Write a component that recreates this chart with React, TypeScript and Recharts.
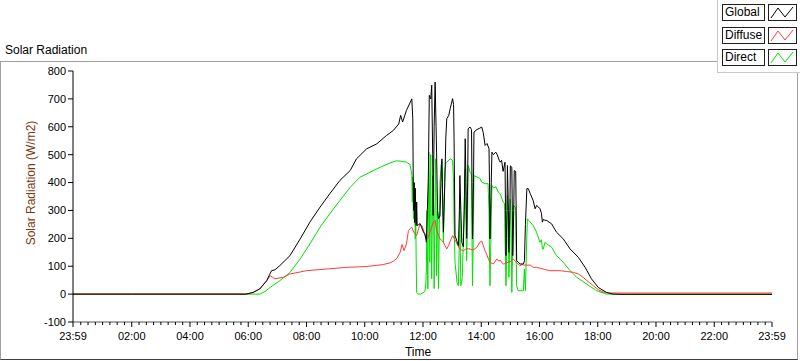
import React from "react";
import { Line, LineChart, XAxis, YAxis } from "recharts";

// minutes since midnight (-1 = 23:59 the day before), W/m2
const globalPts: [number, number][] = [
  [-1, 0], [120, 0], [240, 0], [355, 0], [370, 6], [384, 19], [398, 48], [404, 70], [408, 84], [415, 87],
  [425, 102], [446, 138], [467, 198], [487, 258], [508, 312], [528, 360], [549, 408], [570, 443], [583, 485],
  [604, 521], [625, 539], [645, 569], [659, 587], [670, 610], [674, 641], [678, 617], [686, 659], [693, 685],
  [697, 700], [699, 629], [700, 390], [701, 300], [702, 400], [703, 256], [704, 380], [706, 246], [707, 330],
  [708, 246], [711, 249], [714, 253], [717, 240], [721, 222], [724, 216], [727, 186], [729, 300], [731, 414],
  [733, 713], [736, 700], [738, 749], [740, 500], [741, 282], [743, 600], [745, 760], [747, 600], [748, 509],
  [750, 300], [752, 270], [755, 280], [757, 400], [759, 485], [761, 300], [762, 222], [765, 400], [767, 560],
  [769, 629], [773, 640], [776, 665], [781, 701], [783, 680], [784, 560], [786, 210], [790, 190], [793, 174],
  [795, 300], [796, 425], [798, 300], [800, 186], [803, 170], [805, 300], [807, 557], [809, 350], [810, 200],
  [812, 400], [813, 593], [817, 599], [820, 590], [821, 400], [822, 198], [824, 400], [825, 581], [831, 590],
  [837, 595], [841, 599], [844, 580], [848, 533], [852, 540], [856, 521], [857, 400], [858, 198], [860, 350],
  [862, 509], [865, 500], [870, 509], [873, 500], [877, 480], [879, 473], [882, 480], [885, 440], [889, 473],
  [890, 300], [891, 138], [893, 300], [894, 461], [896, 300], [897, 150], [899, 300], [900, 460], [903, 455],
  [904, 300], [905, 138], [907, 300], [908, 443], [911, 440], [912, 300], [913, 120], [920, 108], [927, 108],
  [929, 120], [931, 250], [934, 378], [937, 378], [941, 360], [944, 348], [947, 335], [951, 306], [954, 318],
  [958, 312], [961, 306], [964, 290], [966, 258], [968, 268], [971, 265], [975, 264], [985, 252], [995, 222],
  [1009, 198], [1023, 162], [1040, 132], [1054, 96], [1067, 55], [1081, 24], [1098, 6], [1112, 0], [1130, -1],
  [1439, -1],
];

const diffusePts: [number, number][] = [
  [-1, 0], [357, 0], [370, 6], [384, 19], [398, 48], [405, 66], [410, 60], [415, 55], [432, 60], [446, 72],
  [480, 84], [522, 90], [563, 96], [604, 99], [638, 106], [652, 112], [659, 118], [666, 128], [673, 150],
  [677, 178], [681, 156], [686, 180], [690, 228], [694, 236], [697, 240], [701, 222], [704, 215], [707, 210],
  [711, 235], [714, 252], [718, 245], [721, 230], [724, 210], [728, 198], [731, 205], [735, 225], [738, 240],
  [741, 258], [745, 264], [748, 230], [752, 210], [755, 198], [759, 192], [762, 186], [765, 175], [769, 162],
  [773, 175], [776, 190], [781, 210], [784, 200], [786, 195], [790, 180], [796, 162], [800, 158], [803, 155],
  [807, 160], [810, 165], [813, 162], [817, 162], [821, 158], [825, 160], [831, 168], [837, 186], [841, 190],
  [844, 175], [848, 155], [851, 144], [855, 125], [858, 114], [862, 110], [865, 108], [869, 118], [872, 126],
  [876, 118], [879, 122], [883, 112], [886, 108], [890, 110], [893, 112], [899, 115], [902, 120], [906, 126],
  [910, 118], [913, 112], [917, 106], [920, 102], [924, 106], [927, 104], [934, 104], [941, 104], [947, 96],
  [954, 96], [961, 93], [971, 88], [981, 84], [1002, 84], [1016, 81], [1030, 78], [1040, 72], [1050, 60],
  [1060, 45], [1071, 30], [1081, 16], [1091, 8], [1105, 4], [1439, 4],
];

const directPts: [number, number][] = [
  [-1, 0], [120, 0], [240, 0], [384, 0], [395, 10], [405, 24], [425, 48], [446, 78], [467, 126], [487, 180],
  [508, 240], [528, 288], [549, 336], [570, 383], [590, 419], [611, 437], [632, 455], [652, 470], [665, 478],
  [673, 477], [686, 473], [693, 465], [696, 440], [697, 425], [698, 330], [699, 420], [700, 300], [701, 270],
  [702, 380], [703, 360], [704, 198], [705, 300], [706, 120], [707, 6], [710, 0], [715, 0], [720, 5], [724, 10],
  [726, 40], [727, 90], [728, 300], [729, 150], [730, 19], [732, 509], [733, 400], [734, 114], [735, 350],
  [736, 500], [737, 200], [738, 55], [740, 425], [742, 300], [743, 20], [745, 350], [746, 485], [747, 300],
  [748, 66], [750, 320], [751, 200], [752, 20], [754, 300], [755, 400], [757, 460], [759, 473], [761, 300],
  [762, 186], [764, 350], [765, 440], [767, 470], [769, 473], [776, 485], [781, 480], [783, 400], [784, 258],
  [786, 114], [788, 80], [790, 42], [793, 30], [795, 200], [796, 330], [797, 150], [798, 30], [801, 60],
  [804, 250], [807, 449], [809, 200], [810, 120], [812, 300], [813, 461], [817, 437], [820, 430], [821, 200],
  [822, 30], [824, 250], [825, 425], [831, 420], [837, 415], [841, 401], [848, 396], [854, 396], [856, 300],
  [857, 150], [858, 30], [860, 200], [862, 390], [865, 380], [870, 385], [875, 366], [879, 360], [885, 330],
  [888, 325], [889, 200], [891, 30], [893, 200], [894, 354], [896, 200], [897, 60], [899, 200], [900, 340],
  [902, 200], [903, 6], [905, 200], [906, 318], [911, 310], [912, 150], [913, 30], [916, 12], [927, 12],
  [928, 60], [929, 90], [930, 40], [931, 12], [933, 150], [935, 270], [940, 260], [947, 246], [954, 222],
  [961, 186], [964, 195], [966, 162], [968, 162], [971, 185], [975, 180], [985, 168], [995, 138], [1009, 114],
  [1023, 84], [1037, 60], [1057, 36], [1078, 12], [1098, 0], [1439, 0],
];

const yTicks = [-100, 0, 100, 200, 300, 400, 500, 600, 700, 800];
const majorTicks = [-1, 120, 240, 360, 480, 600, 720, 840, 960, 1080, 1200, 1320, 1439];
const majorLabels = ["23:59", "02:00", "04:00", "06:00", "08:00", "10:00", "12:00", "14:00", "16:00", "18:00", "20:00", "22:00", "23:59"];

const FONT = '"Liberation Sans", Arial, sans-serif';
const COLORS = { global: "#000000", diffuse: "#ff3c3c", direct: "#00e000" };

// merge the three series on one time column
function buildRows() {
  const map = new Map<number, any>();
  const put = (pts: [number, number][], key: string) =>
    pts.forEach(([t, v]) => {
      const row = map.get(t) || { t };
      row[key] = v;
      map.set(t, row);
    });
  put(globalPts, "global");
  put(diffusePts, "diffuse");
  put(directPts, "direct");
  return Array.from(map.values()).sort((a, b) => a.t - b.t);
}

const minorTicks = Array.from({ length: 96 }, (_, i) => i * 15).filter((t) => t > 0 && t < 1439 && t % 120 !== 0);
const allTicks = [...majorTicks, ...minorTicks].sort((a, b) => a - b);

function TimeTick(props: any) {
  const { x, y, payload } = props;
  const idx = majorTicks.indexOf(payload.value);
  const major = idx >= 0;
  return (
    <g>
      <line x1={x} x2={x} y1={y} y2={y + (major ? 5 : 3)} stroke="#000" />
      {major && (
        <text x={x} y={y + 18} textAnchor="middle" fontSize={11} fontFamily={FONT} fill="#000">
          {majorLabels[idx]}
        </text>
      )}
    </g>
  );
}

function Swatch({ color }: { color: string }) {
  return (
    <svg width={27} height={15} style={{ display: "block" }}>
      <polyline points="2,13 9,3 16,12 24,2" fill="none" stroke={color} strokeWidth={1} />
    </svg>
  );
}

const legendItems = [
  { name: "Global", color: COLORS.global, top: 4 },
  { name: "Diffuse", color: COLORS.diffuse, top: 27 },
  { name: "Direct", color: COLORS.direct, top: 49 },
];

export default function App() {
  const rows = buildRows();
  return (
    <div style={{ position: "absolute", left: 0, top: 0, width: 800, height: 361, background: "#fff", fontFamily: FONT }}>
      {/* outer frame */}
      <div
        style={{
          position: "absolute",
          left: 0,
          top: 61,
          width: 798,
          height: 299,
          boxSizing: "border-box",
          borderTop: "1px solid #a0a0a0",
          borderLeft: "1px solid #a0a0a0",
          borderRight: "1px solid #a0a0a0",
          borderBottom: "1px solid #404040",
        }}
      />
      <div style={{ position: "absolute", left: 5, top: 43, fontSize: 12, color: "#000" }}>Solar Radiation</div>

      <div style={{ position: "absolute", left: 0, top: 0 }}>
        <LineChart width={800} height={361} data={rows} margin={{ top: 71, right: 28, bottom: 0, left: 0 }}>
          <XAxis
            dataKey="t"
            type="number"
            domain={[-1, 1439]}
            ticks={allTicks}
            interval={0}
            tick={<TimeTick />}
            tickLine={false}
            tickSize={0}
            tickMargin={0}
            height={39}
            axisLine={{ stroke: "#555" }}
            allowDataOverflow
          />
          <XAxis
            xAxisId="top"
            orientation="top"
            dataKey="t"
            type="number"
            domain={[-1, 1439]}
            tick={false}
            tickLine={false}
            height={0}
            axisLine={{ stroke: "#000" }}
          />
          <YAxis
            type="number"
            domain={[-100, 800]}
            ticks={yTicks}
            interval={0}
            width={73}
            tickSize={5}
            tickMargin={2}
            tickLine={{ stroke: "#000" }}
            axisLine={{ stroke: "#000" }}
            tick={{ fontSize: 11, fill: "#000", fontFamily: FONT }}
            allowDataOverflow
          />
          <YAxis
            yAxisId="right"
            orientation="right"
            type="number"
            domain={[-100, 800]}
            width={0}
            tick={false}
            tickLine={false}
            axisLine={{ stroke: "#999" }}
          />
          <Line dataKey="direct" stroke={COLORS.direct} strokeWidth={1} dot={false} connectNulls isAnimationActive={false} type="linear" />
          <Line dataKey="diffuse" stroke={COLORS.diffuse} strokeWidth={1} dot={false} connectNulls isAnimationActive={false} type="linear" />
          <Line dataKey="global" stroke={COLORS.global} strokeWidth={1} dot={false} connectNulls isAnimationActive={false} type="linear" />
        </LineChart>
      </div>

      <div
        style={{
          position: "absolute",
          left: 31,
          top: 183,
          transform: "translate(-50%, -50%) rotate(-90deg)",
          whiteSpace: "nowrap",
          fontSize: 12,
          color: "#7a3a10",
        }}
      >
        Solar Radiation (W/m2)
      </div>
      <div style={{ position: "absolute", left: 418, top: 345, transform: "translateX(-50%)", fontSize: 12, color: "#000" }}>
        Time
      </div>

      {/* legend panel */}
      <div
        style={{
          position: "absolute",
          left: 717,
          top: 0,
          width: 83,
          height: 73,
          boxSizing: "border-box",
          background: "#fff",
          borderLeft: "1px solid #c8c8c8",
          borderBottom: "1px solid #c8c8c8",
        }}
      >
        {legendItems.map((item) => (
          <React.Fragment key={item.name}>
            <div
              style={{
                position: "absolute",
                left: 4,
                top: item.top,
                width: 43,
                height: 17,
                boxSizing: "border-box",
                border: "1px solid #202020",
                fontSize: 12,
                lineHeight: "15px",
                paddingLeft: 2,
                color: "#000",
              }}
            >
              {item.name}
            </div>
            <div
              style={{
                position: "absolute",
                left: 50,
                top: item.top,
                width: 29,
                height: 17,
                boxSizing: "border-box",
                border: "1px solid #202020",
              }}
            >
              <Swatch color={item.color} />
            </div>
          </React.Fragment>
        ))}
      </div>
    </div>
  );
}
